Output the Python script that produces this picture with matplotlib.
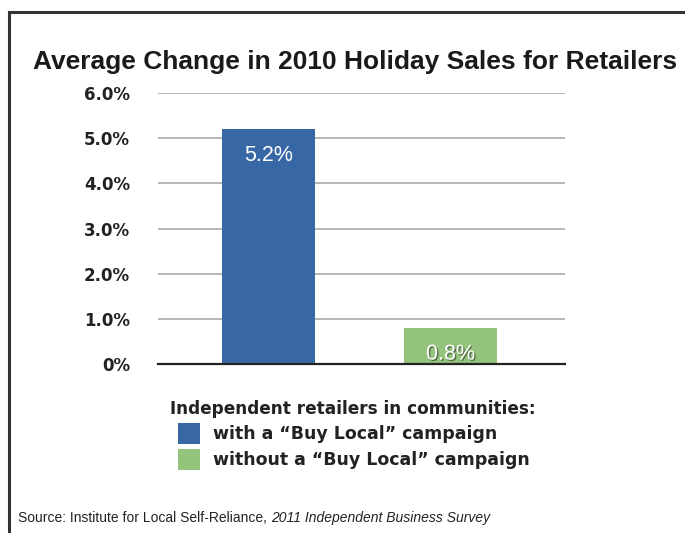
import matplotlib.pyplot as plt
import matplotlib.patheffects as pe
from matplotlib.patches import Rectangle
from matplotlib.lines import Line2D

# Average change in holiday sales, 2010
groups = ["with a \u201cBuy Local\u201d campaign", "without a \u201cBuy Local\u201d campaign"]
changes = [5.2, 0.8]
value_labels = ["5.2%", "0.8%"]
yticks = [0, 1, 2, 3, 4, 5, 6]
ytick_labels = ["0%", "1.0%", "2.0%", "3.0%", "4.0%", "5.0%", "6.0%"]

blue = "#3767a5"
green = "#94c47c"
colors = [blue, green]

plt.rcParams["font.family"] = ["Liberation Sans", "DejaVu Sans"]
wide = ["DejaVu Sans"]

W, H = 685, 533
fig = plt.figure(figsize=(W / 100, H / 100), dpi=100)

# outer frame (left and top edges)
fig.add_artist(Line2D([9 / W, 9 / W], [0, 1 - 12 / H], color="#333333", lw=2.2))
fig.add_artist(Line2D([9 / W, 1], [1 - 12 / H, 1 - 12 / H], color="#333333", lw=2.2))

fig.text(355 / W, 1 - 62 / H, "Average Change in 2010 Holiday Sales for Retailers",
         ha="center", va="center", fontsize=19, fontweight="bold", color="#1a1a1a")

ax = fig.add_axes([158 / W, 1 - 364 / H, (565 - 158) / W, (364 - 93) / H])
x = [0, 1]
bars = ax.bar(x, changes, width=0.511, color=colors, zorder=3)

ax.set_xlim(-0.607, 1.629)
ax.set_ylim(0, 6)
ax.set_yticks(yticks)
ax.set_yticklabels(ytick_labels, fontsize=12, fontweight="bold", color="#222222", family=wide)
ax.tick_params(axis="y", length=0, pad=20)
ax.set_xticks([])
ax.yaxis.grid(True, color="#b5b5b5", lw=1.4, zorder=0)
for side in ["left", "right", "top"]:
    ax.spines[side].set_visible(False)
ax.spines["bottom"].set_color("#222222")
ax.spines["bottom"].set_linewidth(1.6)
ax.spines["bottom"].set_zorder(4)

# value labels inside the bars
ax.text(x[0], changes[0] - 0.58, value_labels[0], ha="center", va="center",
        fontsize=15.5, color="white", zorder=5)
ax.text(x[1], changes[1] - 0.58, value_labels[1], ha="center", va="center",
        fontsize=15.5, color="white", zorder=5,
        path_effects=[pe.withSimplePatchShadow(offset=(1, -1), shadow_rgbFace="#333333", alpha=0.6)])

# legend block
fig.text(170 / W, 1 - 409 / H, "Independent retailers in communities:",
         ha="left", va="center", fontsize=12.2, fontweight="bold", color="#222222", family=wide)
for i, (label, c) in enumerate(zip(groups, colors)):
    yc = 434 + i * 26
    fig.add_artist(Rectangle((178 / W, 1 - (yc + 10) / H), 22 / W, 21 / H,
                             facecolor=c, edgecolor="none", transform=fig.transFigure))
    fig.text(213 / W, 1 - yc / H, label, ha="left", va="center",
             fontsize=12.5, fontweight="bold", color="#222222", family=wide)

# source line
src = fig.text(18 / W, 1 - 518 / H, "Source: Institute for Local Self-Reliance, ",
               ha="left", va="center", fontsize=10, color="#222222")
fig.canvas.draw()
bb = src.get_window_extent()
fig.text(bb.x1 / W, 1 - 518 / H, "2011 Independent Business Survey",
         ha="left", va="center", fontsize=10, style="italic", color="#222222")

fig.savefig("out.png", dpi=100)
